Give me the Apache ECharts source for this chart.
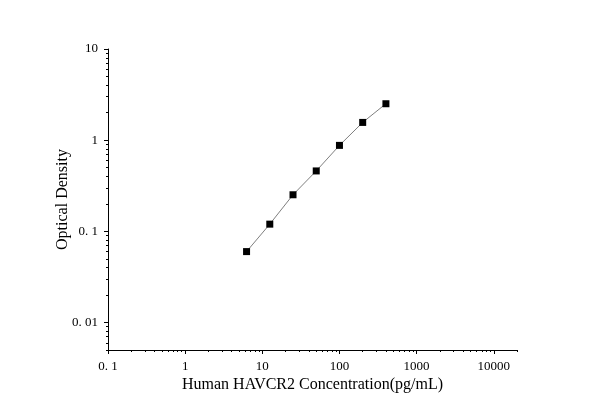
<!DOCTYPE html>
<html>
<head>
<meta charset="utf-8">
<script src="https://cdn.jsdelivr.net/npm/echarts@6/dist/echarts.min.js"></script>
<style>
  html, body { margin: 0; padding: 0; background: #fff; }
  #chart { width: 600px; height: 419px; }
</style>
</head>
<body>
<div id="chart"></div>
<script>
// 标准曲线数据
const concentration = [6.25, 12.5, 25, 50, 100, 200, 400];
const density = [0.060, 0.120, 0.252, 0.460, 0.877, 1.566, 2.51];

const xTickValues = [0.1, 1, 10, 100, 1000, 10000];
const xTickLabels = ['0. 1', '1', '10', '100', '1000', '10000'];
const yTickValues = [0.01, 0.1, 1, 10];
const yTickLabels = ['0. 01', '0. 1', '1', '10'];

const X_MIN = 0.1, X_MAX = 20000;
const Y_MIN = 0.005, Y_MAX = 10;

// 次刻度: 每个十倍区间内的 2..9
function minorTicks(lo, hi) {
  const out = [];
  for (let e = -4; e <= 5; e++) {
    for (let m = 2; m <= 9; m++) {
      const v = +(m * Math.pow(10, e)).toPrecision(6);
      if (v >= lo * 0.9999 && v <= hi * 1.0001) out.push(v);
    }
  }
  return out;
}

function labelFor(values, labels) {
  return function (v) {
    for (let i = 0; i < values.length; i++) {
      if (Math.abs(v / values[i] - 1) < 1e-6) return labels[i];
    }
    return '';
  };
}

const font = 'Liberation Serif';
const black = '#000';

const chart = echarts.init(document.getElementById('chart'));
chart.setOption({
  animation: false,
  backgroundColor: '#fff',
  grid: { left: 108, top: 49, right: 83, bottom: 69, containLabel: false },
  xAxis: [{
    type: 'log',
    logBase: 10,
    min: X_MIN,
    max: X_MAX,
    position: 'bottom',
    name: 'Human HAVCR2 Concentration(pg/mL)',
    nameLocation: 'middle',
    nameGap: 27,
    nameMoveOverlap: false,
    nameTextStyle: { fontFamily: font, fontSize: 16, color: black },
    axisLine: { show: true, onZero: false, lineStyle: { color: black, width: 1 } },
    axisTick: { show: true, inside: false, length: 4, customValues: xTickValues, lineStyle: { color: black } },
    axisLabel: {
      show: true, margin: 10, customValues: xTickValues,
      fontFamily: font, fontSize: 13, color: black,
      formatter: labelFor(xTickValues, xTickLabels)
    },
    splitLine: { show: false },
    minorTick: { show: false }
  }, {
    type: 'log',
    logBase: 10,
    min: X_MIN,
    max: X_MAX,
    position: 'bottom',
    axisLine: { show: false, onZero: false },
    axisTick: { show: true, inside: false, length: 2, customValues: minorTicks(X_MIN, X_MAX), lineStyle: { color: black } },
    axisLabel: { show: false },
    splitLine: { show: false }
  }],
  yAxis: [{
    type: 'log',
    logBase: 10,
    min: Y_MIN,
    max: Y_MAX,
    position: 'left',
    name: 'Optical Density',
    nameLocation: 'middle',
    nameGap: 37,
    nameMoveOverlap: false,
    nameTextStyle: { fontFamily: font, fontSize: 16, color: black },
    axisLine: { show: true, onZero: false, lineStyle: { color: black, width: 1 } },
    axisTick: { show: true, inside: false, length: 4, customValues: yTickValues, lineStyle: { color: black } },
    axisLabel: {
      show: true, margin: 10, customValues: yTickValues,
      fontFamily: font, fontSize: 13, color: black,
      formatter: labelFor(yTickValues, yTickLabels)
    },
    splitLine: { show: false }
  }, {
    type: 'log',
    logBase: 10,
    min: Y_MIN,
    max: Y_MAX,
    position: 'left',
    axisLine: { show: false, onZero: false },
    axisTick: { show: true, inside: false, length: 2, customValues: minorTicks(Y_MIN, Y_MAX), lineStyle: { color: black } },
    axisLabel: { show: false },
    splitLine: { show: false }
  }],
  series: [{
    type: 'line',
    xAxisIndex: 0,
    yAxisIndex: 0,
    data: concentration.map((c, i) => [c, density[i]]),
    symbol: 'rect',
    symbolSize: 7,
    itemStyle: { color: black },
    lineStyle: { color: '#7f7f7f', width: 1 }
  }]
});

window.addEventListener('resize', () => chart.resize());
</script>
</body>
</html>
